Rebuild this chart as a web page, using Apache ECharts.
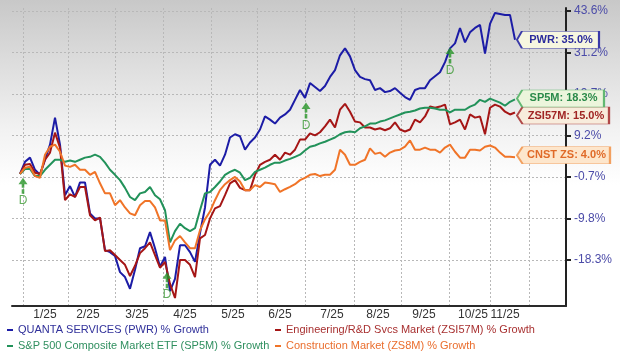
<!DOCTYPE html>
<html><head><meta charset="utf-8">
<script src="https://cdn.jsdelivr.net/npm/echarts@6/dist/echarts.min.js"></script>
<style>
html,body{margin:0;padding:0;}
body{width:620px;height:355px;background:linear-gradient(to bottom,#c8c8c8 0px,#dcdcdc 60px,#f2f2f2 130px,#ffffff 185px,#ffffff 355px);}
#c{width:620px;height:355px;}
</style></head><body><div id="c"></div>
<script>
// ---- data ----
const months = ['1/25','2/25','3/25','4/25','5/25','6/25','7/25','8/25','9/25','10/25','11/25'];
const monthLabelPos = [5, 13.6, 23.4, 33, 42.6, 52, 62.4, 71.6, 80.8, 90.6, 97];
const monthStarts = [0.6, 9.6, 19, 28.6, 38.2, 47.4, 57, 66.8, 76.2, 85.8, 94, 101.8];
const tickVals = [-18.3, -9.8, -0.7, 9.2, 19.7, 31.2, 43.6];
const tickLabels = ['-18.3%', '-9.8%', '-0.7%', '9.2%', '19.7%', '31.2%', '43.6%'];

const pwr = [0.0,2.9,3.9,1.0,-0.2,3.4,7.0,13.7,7.0,-4.7,
-2.7,-5.1,-1.9,-1.9,-8.7,-9.8,-9.8,-16.3,-16.7,-17.5,
-20.8,-21.8,-24.2,-20.3,-15.9,-15.5,-12.6,-15.9,-19.7,-17.7,
-24.7,-22.2,-15.3,-15.3,-16.7,-18.7,-12.8,-7.4,2.2,3.4,
2.0,4.6,8.7,9.5,9.0,5.8,7.5,8.7,10.7,14.0,
13.2,12.2,13.7,14.5,15.7,18.2,20.8,18.7,22.7,21.6,
20.5,21.9,24.4,26.3,30.4,32.4,30.1,26.3,24.4,23.8,
23.5,20.8,21.3,20.2,20.5,21.3,20.0,18.9,18.2,20.8,
21.3,21.3,23.5,24.6,25.7,28.5,32.4,33.9,38.5,34.2,
37.2,38.5,39.4,30.9,39.7,43.0,42.7,42.4,42.4,35.0];

const zsi57m = [0.0,2.2,2.4,0.3,0.0,3.4,5.1,9.9,6.3,-5.8,
-4.5,-5.1,-2.9,-2.9,-9.1,-10.2,-9.6,-16.5,-16.3,-17.3,
-18.3,-19.3,-21.6,-19.5,-16.9,-15.9,-14.7,-17.3,-19.9,-18.7,
-23.2,-26.1,-18.3,-18.3,-19.3,-21.8,-13.9,-13.2,-9.8,-7.6,
-7.1,-4.7,-2.1,-1.4,-3.1,-3.6,-3.6,-0.2,2.2,2.9,
3.4,4.6,3.4,5.1,4.6,5.8,8.2,8.2,9.7,9.2,
10.0,11.5,13.2,11.2,15.7,17.2,15.2,12.7,12.5,11.2,
11.2,10.7,11.0,10.5,11.0,12.5,10.7,10.2,10.7,13.2,
12.5,14.0,16.5,16.2,16.5,17.0,12.0,12.5,13.2,10.7,
14.5,13.7,14.0,9.5,16.2,17.0,16.5,15.2,14.5,15.0];

const sp5m = [0.0,1.2,1.2,-0.5,-0.5,1.0,2.2,3.4,3.4,2.9,
3.2,2.9,3.4,3.9,4.1,4.6,4.1,2.7,1.0,-0.2,
-1.4,-3.1,-5.1,-5.8,-4.3,-4.0,-2.9,-4.7,-5.6,-8.0,
-14.7,-12.4,-10.9,-11.8,-12.4,-11.8,-8.0,-4.3,-4.0,-2.9,
-1.7,-0.2,0.5,1.0,0.3,-1.4,-0.9,0.5,1.0,1.5,
2.2,2.7,2.7,3.2,3.6,4.1,4.6,5.6,6.5,6.8,
7.3,7.7,8.2,8.7,9.5,10.0,10.2,10.0,11.0,11.5,
12.2,12.2,12.7,13.0,13.5,14.0,14.5,15.0,15.2,15.5,
16.0,16.2,16.2,16.0,15.7,15.7,15.0,15.7,15.7,15.7,
16.5,17.0,18.2,17.7,18.5,18.0,17.5,16.7,17.7,18.3];

const zs8m = [0.0,1.5,1.7,-0.5,-0.9,4.6,6.5,7.0,5.3,2.0,
1.7,2.2,1.0,1.0,-0.2,0.5,-2.1,-4.3,-4.3,-6.9,
-5.8,-7.4,-8.7,-9.1,-6.9,-6.0,-6.0,-7.4,-10.2,-10.2,
-16.3,-14.3,-13.4,-14.7,-15.9,-15.9,-12.2,-10.0,-8.3,-5.8,
-3.6,-2.3,-1.4,-0.7,-1.7,-3.6,-3.6,-2.5,-2.9,-1.9,
-2.1,-2.3,-4.0,-3.4,-2.9,-2.3,-1.4,-0.9,-0.2,0.0,
-0.5,-0.2,-0.2,1.0,5.8,4.6,2.2,2.2,2.9,3.4,
6.1,4.8,5.1,4.1,5.1,5.6,5.8,6.5,8.0,5.8,
5.8,6.3,5.8,5.8,5.1,6.3,7.0,5.3,3.9,3.9,
5.8,5.8,5.6,6.5,6.8,6.3,5.1,4.1,4.1,4.0];

const divX = [0.6, 29.4, 57.2, 86];
const divY = [-0.9, -20.8, 17.5, 32.7];

// ---- helpers ----
function T(v) {
  let j = 0;
  if (v >= tickVals[tickVals.length - 1]) j = tickVals.length - 2;
  else if (v > tickVals[0]) { while (!(v >= tickVals[j] && v <= tickVals[j + 1])) j++; }
  return j + (v - tickVals[j]) / (tickVals[j + 1] - tickVals[j]);
}
function nearestIdx(arr, v) {
  let b = 0; for (let i = 1; i < arr.length; i++) if (Math.abs(arr[i] - v) < Math.abs(arr[b] - v)) b = i; return b;
}
const FONT = '"Liberation Sans", Arial, sans-serif';

const defs = [
  {name: 'QUANTA SERVICES (PWR) % Growth', data: pwr, color: '#1c1ca6', text: '#2b2b9c', tag: 'PWR', w: 82, dy: 0, fill: '#f6f6e0', border: '#3a3aa8', lt: '#30309a'},
  {name: 'Engineering/R&D Svcs Market (ZSI57M) % Growth', data: zsi57m, color: '#a51616', text: '#a02424', tag: 'ZSI57M', w: 92, dy: 3, fill: '#f8ecdc', border: '#b04848', lt: '#a83030'},
  {name: 'S&P 500 Composite Market ETF (SP5M) % Growth', data: sp5m, color: '#22925a', text: '#2a8a4a', tag: 'SP5M', w: 87, dy: -1, fill: '#ecf5dc', border: '#62b872', lt: '#2f8f5f'},
  {name: 'Construction Market (ZS8M) % Growth', data: zs8m, color: '#f07428', text: '#e06a28', tag: 'CNST ZS', w: 93, dy: -2, fill: '#fde6cc', border: '#f2a060', lt: '#ea6e2e'}
];

const series = defs.map(d => {
  const last = d.data.length - 1;
  return {
    type: 'line', name: d.name, showSymbol: false, symbol: 'none',
    data: d.data.map((v, i) => [i, T(v)]),
    lineStyle: {color: d.color, width: 2},
    itemStyle: {color: d.color},
    z: 2,
    markPoint: {
      silent: true, animation: false,
      symbol: 'path://M0,8.5L6,0L100,0L100,17L6,17Z',
      symbolSize: [d.w, 17], symbolKeepAspect: false,
      symbolOffset: [d.w / 2 + 2, d.dy],
      itemStyle: {color: d.fill, borderColor: d.border, borderWidth: 1},
      label: {show: true, position: 'inside', offset: [3, 0],
        formatter: d.tag + ': ' + d.data[last].toFixed(1) + '%',
        color: d.text, fontSize: 11, fontWeight: 'bold', fontFamily: FONT},
      data: [{coord: [last, T(d.data[last])]}]
    }
  };
});

series.push({
  type: 'scatter', name: 'Dividend', silent: true, z: 4,
  data: divX.map((x, i) => [x, T(divY[i])]),
  symbol: 'path://M4.5,0L9,6.5L5.8,6.5L5.8,10L3.2,10L3.2,6.5L0,6.5Z M3.2,11.5L5.8,11.5L5.8,16L3.2,16Z',
  symbolSize: [9, 16], symbolKeepAspect: false, symbolOffset: [0, 8],
  itemStyle: {color: '#279527'},
  label: {show: true, formatter: 'D', position: 'bottom', distance: 1, color: '#3c9a34', fontSize: 12, fontFamily: FONT}
});

const legendItem = d => ({name: d.name, textStyle: {color: d.lt}});
const legendBase = {orient: 'vertical', top: 323, itemGap: 2, itemWidth: 6, itemHeight: 2, icon: 'rect', padding: 0,
  selectedMode: false, textStyle: {fontSize: 11, lineHeight: 14, fontFamily: FONT}};

const option = {
  animation: false,
  backgroundColor: 'transparent',
  grid: {left: 12, right: 54, top: 8, bottom: 49, containLabel: false, outerBoundsMode: 'none'},
  legend: [
    Object.assign({}, legendBase, {left: 7, data: [legendItem(defs[0]), legendItem(defs[2])]}),
    Object.assign({}, legendBase, {left: 275, data: [legendItem(defs[1]), legendItem(defs[3])]})
  ],
  xAxis: {
    type: 'value', min: -1.6, max: 109.2,
    axisLine: {show: true, onZero: false, lineStyle: {color: '#2a2a2a', width: 2}},
    axisTick: {show: false, customValues: monthStarts},
    splitLine: {show: true, lineStyle: {color: '#b8b8b8', type: [2, 2], width: 1}},
    axisLabel: {customValues: monthLabelPos, hideOverlap: false,
      formatter: v => months[nearestIdx(monthLabelPos, v)],
      color: '#333333', fontSize: 12, margin: 3, fontFamily: FONT}
  },
  yAxis: {
    type: 'value', position: 'right', min: -1.11, max: 6.07, scale: true,
    axisLine: {show: true, onZero: false, lineStyle: {color: '#222222', width: 2}},
    axisTick: {show: true, customValues: [0, 1, 2, 3, 4, 5, 6], length: 5, inside: false, lineStyle: {color: '#222222', width: 2}},
    splitLine: {show: true, lineStyle: {color: '#b8b8b8', type: [2, 2], width: 1}},
    axisLabel: {customValues: [0, 1, 2, 3, 4, 5, 6], hideOverlap: false,
      formatter: v => tickLabels[Math.round(v)],
      color: '#4b4ba8', fontSize: 12, margin: 8, fontFamily: FONT}
  },
  series: series
};
const chart = echarts.init(document.getElementById('c'), null, {renderer: 'canvas'});
chart.setOption(option);
</script></body></html>
